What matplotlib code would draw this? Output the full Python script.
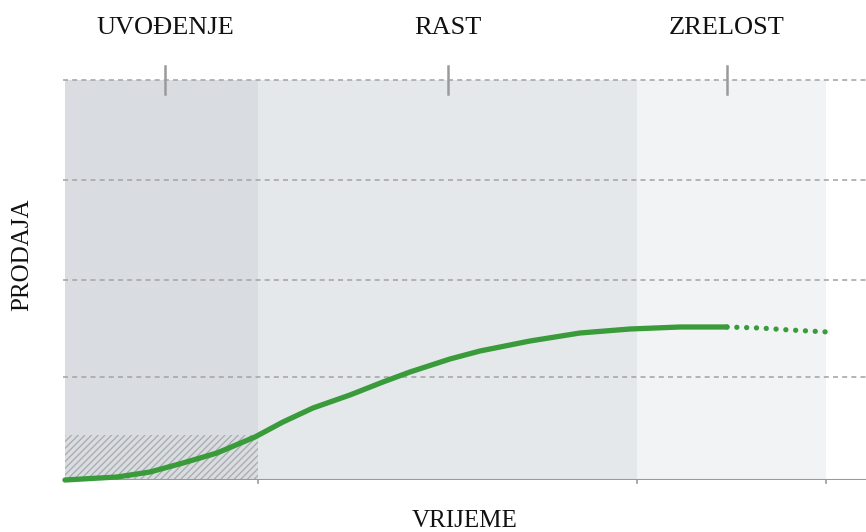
import matplotlib.pyplot as plt
from matplotlib.patches import Rectangle

# stage boundaries and labels (x in time units)
stage_names = ['UVOĐENJE', 'RAST', 'ZRELOST']
stage_edges = [0.0, 1.93, 5.72, 7.61]
stage_centers = [1.0, 3.83, 6.62]
stage_colors = ['#d9dde1', '#e4e8eb', '#f1f3f5']

# sales curve (solid part, then dotted forecast)
curve_x = [0.0, 0.52, 0.85, 1.18, 1.52, 1.90, 2.18, 2.48, 2.85, 3.18, 3.45, 3.85,
           4.15, 4.65, 5.15, 5.65, 6.15, 6.62]
curve_y = [0.0, 0.03, 0.08, 0.17, 0.27, 0.43, 0.58, 0.72, 0.85, 0.98, 1.08, 1.21,
           1.29, 1.39, 1.47, 1.51, 1.53, 1.53]
dot_x = [6.62, 6.95, 7.25, 7.63]
dot_y = [1.53, 1.52, 1.50, 1.48]

grid_y = [1.03, 2.0, 3.0, 4.0]
hatch_height = 0.45

plt.rcParams['font.family'] = ['Liberation Serif', 'DejaVu Serif']
plt.rcParams['hatch.color'] = '#a8aaac'
plt.rcParams['hatch.linewidth'] = 0.9

fig = plt.figure(figsize=(8.66, 5.32), dpi=100)
ax = fig.add_axes([0.075, 1 - 480 / 532, 0.925, (480 - 80) / 532])
ax.set_xlim(0, 8.01)
ax.set_ylim(0, 4.0)

for i in range(3):
    ax.axvspan(stage_edges[i], stage_edges[i + 1], color=stage_colors[i], lw=0, zorder=0)

ax.add_patch(Rectangle((0, 0), stage_edges[1], hatch_height, facecolor='none',
                       edgecolor='#a8aaac', lw=0, hatch='/////', zorder=1))

for gy in grid_y:
    ax.axhline(gy, color='#a8a8a8', lw=1.2, ls=(0, (3, 2.5)), zorder=2, clip_on=False,
               xmin=-0.003)

ax.axhline(0, color='#9a9a9a', lw=1.5, zorder=2)

# stage ticks at top
for cx in stage_centers:
    ax.plot([cx, cx], [3.86, 4.14], color='#9a9a9a', lw=1.8, clip_on=False, zorder=3)
# small ticks at bottom on stage boundaries
for ex in stage_edges[1:]:
    ax.plot([ex, ex], [-0.03, 0.0], color='#9a9a9a', lw=1.2, clip_on=False, zorder=3)

ax.plot(curve_x, curve_y, color='#3a9b3a', lw=3.8, solid_capstyle='round',
        solid_joinstyle='round', zorder=4, clip_on=False)
ax.plot(dot_x, dot_y, color='#3a9b3a', lw=3.8, ls=(0, (0.01, 1.85)),
        dash_capstyle='round', zorder=4)

for name, cx in zip(stage_names, stage_centers):
    ax.text(cx, 4.52, name, ha='center', va='center', fontsize=19, color='#111111',
            clip_on=False)

fig.text(465 / 866, 1 - 521 / 532, 'VRIJEME', ha='center', va='center', fontsize=18,
         color='#111111')
fig.text(22 / 866, 1 - 255 / 532, 'PRODAJA', ha='center', va='center', fontsize=18,
         rotation=90, color='#111111')

for s in ax.spines.values():
    s.set_visible(False)
ax.set_xticks([])
ax.set_yticks([])

fig.savefig('out.png', dpi=100)
